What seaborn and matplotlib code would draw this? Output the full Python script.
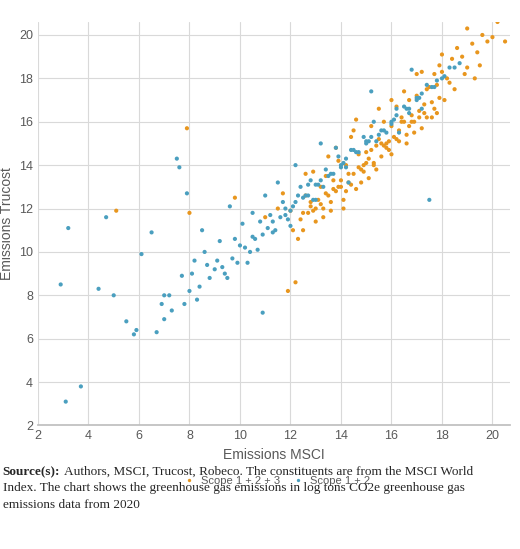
import matplotlib
matplotlib.use("Agg")
import matplotlib.pyplot as plt
import seaborn as sns
import pandas as pd

# Scope 1 + 2 + 3 (orange)
o_x = [5.1,7.9,8.0,9.8,11.0,11.5,11.9,12.1,12.2,12.4,12.5,12.6,12.7,12.8,12.9,13.0,13.1,13.2,13.3,13.4,13.5,13.6,13.7,13.8,13.9,14.0,14.1,14.2,14.3,14.4,14.5,14.6,14.7,14.8,14.9,15.0,15.1,15.2,15.3,15.4,15.5,15.6,15.7,15.8,15.9,16.0,16.1,16.2,16.3,16.4,16.5,16.6,16.7,16.8,16.9,17.0,17.1,17.2,17.3,17.4,17.5,17.6,17.7,17.8,17.9,18.0,18.2,18.4,18.6,18.8,19.0,19.2,19.4,19.6,19.8,20.0,20.2,20.4,13.0,13.6,14.2,14.8,15.4,16.0,16.6,17.2,17.8,14.5,15.5,16.5,13.3,14.0,15.0,16.0,17.0,18.0,19.0,12.3,12.0,12.6,13.8,14.6,15.6,16.4,17.4,18.5,19.5,20.5,11.7,12.9,14.1,15.3,16.9,18.1,19.3,13.5,15.8,17.6,
       12.8,13.2,13.7,14.3,14.7,15.1,15.7,16.3,16.8,17.3,17.9,18.3,18.9,13.4,14.4,15.2,16.2,17.1,12.5,13.9,14.9,15.9,16.7,17.7]
o_y = [11.9,15.7,11.8,12.5,11.6,12.0,8.2,11.0,8.6,11.5,11.0,12.6,11.8,12.3,13.7,11.4,12.4,13.0,12.0,13.5,12.6,11.9,13.3,12.8,14.2,13.0,12.4,14.0,13.2,15.3,13.6,12.9,14.5,13.8,14.0,14.6,13.4,15.8,14.1,14.9,15.2,14.4,16.0,15.0,14.7,15.8,15.3,16.7,15.1,16.2,16.0,15.4,17.0,16.3,16.0,17.2,16.5,18.3,16.8,17.5,17.6,16.9,18.2,17.7,18.6,18.3,18.0,18.9,19.4,19.0,18.5,19.6,19.2,20.0,19.7,19.9,20.6,21.0,12.0,12.3,12.8,13.2,13.8,14.5,15.0,15.7,16.4,15.6,16.6,17.4,11.6,13.3,14.1,17.0,18.2,19.1,20.3,10.6,11.9,13.6,14.8,16.1,15.0,16.0,16.2,17.5,18.6,19.7,12.7,11.9,12.0,14.0,15.5,17.0,18.0,14.4,14.8,16.2,
       12.1,12.2,12.9,13.6,13.9,14.3,14.9,15.6,16.0,16.4,17.1,17.8,18.2,12.7,13.1,14.7,15.2,16.2,11.8,13.0,13.7,15.1,15.8,16.6]

# Scope 1 + 2 (blue)
b_x = [2.9,3.1,3.2,3.7,4.4,4.7,5.0,5.5,5.8,5.9,6.1,6.5,6.7,7.0,7.0,7.3,7.5,7.6,7.8,7.9,8.0,8.2,8.3,8.5,8.7,9.0,9.2,9.5,9.6,10.0,10.3,10.5,10.9,11.0,11.3,11.5,11.8,12.0,12.2,12.5,12.8,13.0,13.2,13.5,13.8,14.0,14.3,14.5,15.0,15.3,15.5,16.0,16.3,16.5,17.0,17.2,17.5,17.8,18.0,18.3,18.7,15.2,16.8,8.4,8.8,9.3,9.7,10.2,10.6,11.1,11.6,12.1,12.6,13.1,13.6,14.1,14.6,15.1,15.6,16.1,16.6,17.1,17.6,18.1,18.5,9.1,9.9,10.8,11.4,12.3,12.9,13.4,14.2,14.9,15.8,16.7,17.4,7.2,8.1,8.6,9.4,10.1,10.7,11.2,11.9,12.4,13.3,13.9,14.4,15.4,16.2,6.9,7.7,9.8,10.4,11.7,12.7,
       10.9,11.3,11.8,12.2,12.7,13.2,13.7,14.2,14.7,15.2,15.7,16.2,16.7,17.2,17.7,10.5,12.0,13.0,14.0,15.0,16.0,17.0]
b_y = [8.5,3.1,11.1,3.8,8.3,11.6,8.0,6.8,6.2,6.4,9.9,10.9,6.3,8.0,6.9,7.3,14.3,13.9,7.6,12.7,8.2,9.6,7.8,11.0,9.4,9.2,10.5,8.8,12.1,10.3,9.5,11.8,7.2,12.6,10.9,13.2,12.0,11.2,14.0,12.5,13.3,12.4,15.0,13.5,14.8,14.0,13.2,14.7,15.0,16.0,15.4,16.0,15.5,16.7,17.0,16.6,12.4,17.9,18.0,18.5,18.7,17.4,18.4,8.4,8.8,9.3,9.7,10.2,10.6,11.1,11.6,12.1,12.6,13.1,13.6,14.1,14.6,15.1,15.6,16.1,16.6,17.1,17.6,18.1,18.5,9.6,9.5,11.4,11.0,12.6,12.4,13.8,13.9,15.3,15.5,16.4,17.7,8.0,9.0,10.0,9.0,11.3,10.1,11.7,11.5,13.0,13.0,14.4,14.7,15.1,16.6,7.6,8.9,10.6,10.0,12.3,13.1,
       10.8,11.4,11.7,12.3,12.6,13.3,13.6,14.3,14.6,15.3,15.6,16.3,16.6,17.3,17.6,10.7,11.9,13.1,13.9,15.1,15.9,17.1]

df = pd.concat([
    pd.DataFrame({"x": o_x, "y": o_y, "s": "Scope 1 + 2 + 3"}),
    pd.DataFrame({"x": b_x, "y": b_y, "s": "Scope 1 + 2"}),
])

sns.set_theme(style="white")
plt.rcParams['font.family'] = ['Liberation Sans', 'DejaVu Sans']
fig = plt.figure(figsize=(5.2, 5.49), dpi=100)
ax = fig.add_axes([0.073, 0.225, 0.908, 0.735])
sns.scatterplot(data=df, x="x", y="y", hue="s", palette={"Scope 1 + 2 + 3": "#E8961E", "Scope 1 + 2": "#4A9FBF"},
                s=9, linewidth=0, ax=ax, legend=True)
ax.set_xlim(2, 20.7)
ax.set_ylim(2, 20.6)
ax.set_xticks(range(2, 21, 2))
ax.set_yticks(range(2, 21, 2))
ax.grid(True, color="#D9D9D9", linewidth=0.8)
for sp in ["top", "right", "left"]:
    ax.spines[sp].set_visible(False)
ax.spines["bottom"].set_color("#BFBFBF")
ax.tick_params(labelsize=9, colors="#595959", length=0)
ax.set_xlabel("Emissions MSCI", fontsize=10, color="#595959")
ax.set_ylabel("Emissions Trucost", fontsize=10, color="#595959")
ax.legend(loc="upper center", bbox_to_anchor=(0.5, -0.1), ncol=2, frameon=False, fontsize=8,
          handletextpad=0.1, columnspacing=0.6, markerscale=0.8, labelcolor="#595959")

y0 = 0.135
t1 = fig.text(0.005, y0, "Source(s):", fontsize=9.5, family="Liberation Serif", weight="bold", va="baseline")
fig.canvas.draw()
bb = t1.get_window_extent().transformed(fig.transFigure.inverted())
fig.text(bb.x1 + 0.008, y0, "Authors, MSCI, Trucost, Robeco. The constituents are from the MSCI World",
         fontsize=9.5, family="Liberation Serif", va="baseline")
fig.text(0.005, y0 - 0.03, "Index. The chart shows the greenhouse gas emissions in log tons CO2e greenhouse gas",
         fontsize=9.5, family="Liberation Serif", va="baseline")
fig.text(0.005, y0 - 0.06, "emissions data from 2020",
         fontsize=9.5, family="Liberation Serif", va="baseline")
fig.savefig("out.png", dpi=100)
